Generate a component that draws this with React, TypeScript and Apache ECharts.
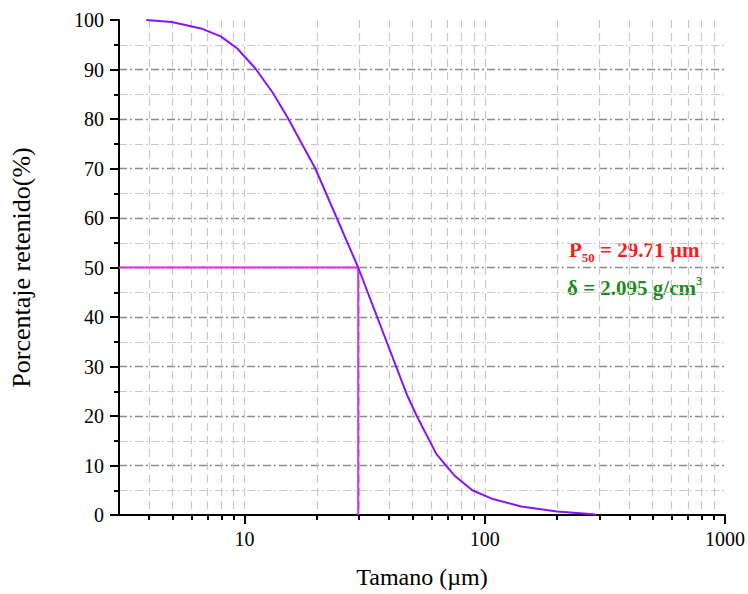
import React, { useEffect, useRef } from "react";
import * as echarts from "echarts";

// Particle size (µm) and percentage retained
const sizes = [3.9, 4.97, 6.59, 7.95, 9.3, 11.05, 13.1, 15.1, 19.7, 29.71, 47.4, 52.1, 62.9, 74.7, 88.7, 107, 142, 200, 282, 290];
const retained = [100, 99.6, 98.3, 96.7, 94.3, 90.3, 85.3, 80.3, 70, 50, 24.3, 20, 12.3, 8, 5, 3.3, 1.7, 0.7, 0.15, 0];

const p50 = 29.71;
const p50Level = 50;
const xMin = 3;
const xMax = 1000;

const xMajorTicks = [10, 100, 1000];
const xMinorTicks = [4, 5, 6, 7, 8, 9, 10, 20, 30, 40, 50, 60, 70, 80, 90, 100, 200, 300, 400, 500, 600, 700, 800, 900];

const FONT = "Liberation Serif";

export default function App() {
  const ref = useRef<HTMLDivElement>(null);
  useEffect(() => {
    if (!ref.current) return;
    const chart = echarts.init(ref.current, null, { renderer: "svg" });
    const option: any = {
      animation: false,
      backgroundColor: "#ffffff",
      grid: { left: 110, right: 20, top: 20, bottom: 74, containLabel: false },
      xAxis: [
        {
          type: "log",
          logBase: 10,
          min: xMin,
          max: xMax,
          position: "bottom",
          name: "Tamano (µm)",
          nameLocation: "middle",
          nameGap: 50,
          nameTextStyle: { fontFamily: FONT, fontSize: 24, color: "#000" },
          axisLine: { show: true, lineStyle: { color: "#000", width: 2 } },
          axisTick: { show: true, inside: false, length: 9, customValues: xMajorTicks, lineStyle: { color: "#000", width: 2 } },
          axisLabel: {
            customValues: xMajorTicks,
            margin: 14,
            fontFamily: FONT,
            fontSize: 20,
            color: "#000",
            formatter: (v: number) => String(v),
          },
          splitLine: { show: false },
          minorTick: { show: false },
        },
        {
          type: "log",
          logBase: 10,
          min: xMin,
          max: xMax,
          position: "bottom",
          axisLine: { show: false },
          axisTick: { show: true, inside: false, length: 5, customValues: xMinorTicks, lineStyle: { color: "#000", width: 2 } },
          axisLabel: { show: false },
          splitLine: { show: true, lineStyle: { color: "#c8c8c8", width: 1.2, type: [8, 5] } },
        },
      ],
      yAxis: {
        type: "value",
        min: 0,
        max: 100,
        interval: 10,
        name: "Porcentaje retenido(%)",
        nameLocation: "middle",
        nameGap: 85,
        nameRotate: 90,
        nameTextStyle: { fontFamily: FONT, fontSize: 26, color: "#000" },
        axisLine: { show: true, lineStyle: { color: "#000", width: 2 } },
        axisTick: { show: true, inside: false, length: 9, lineStyle: { color: "#000", width: 2 } },
        minorTick: { show: true, splitNumber: 2, length: 5, lineStyle: { color: "#000", width: 2 } },
        axisLabel: { margin: 15, fontFamily: FONT, fontSize: 20, color: "#000" },
        splitLine: { show: true, showMinLine: false, showMaxLine: false, lineStyle: { color: "#8c8c8c", width: 1.3, type: [8, 3, 2, 3] } },
        minorSplitLine: { show: true, lineStyle: { color: "#c8c8c8", width: 1.2, type: [8, 3, 2, 3] } },
      },
      series: [
        {
          type: "line",
          xAxisIndex: 0,
          data: [[xMin, p50Level], [p50, p50Level], [p50, 0]],
          symbol: "none",
          lineStyle: { color: "#e02be0", width: 2 },
          z: 3,
        },
        {
          type: "line",
          xAxisIndex: 0,
          data: sizes.map((s, i) => [s, retained[i]]),
          symbol: "none",
          lineStyle: { color: "#8417f2", width: 2 },
          z: 4,
        },
      ],
      graphic: [
        {
          type: "text",
          x: 569,
          y: 250,
          style: {
            text: "{a|P}{s|50}{a| = 29.71 µm}",
            verticalAlign: "middle",
            rich: {
              a: { fontFamily: FONT, fontSize: 21, fontWeight: "bold", fill: "#f51c1c", lineHeight: 28, verticalAlign: "middle" },
              s: { fontFamily: FONT, fontSize: 13, fontWeight: "bold", fill: "#f51c1c", lineHeight: 13, verticalAlign: "bottom" },
            },
          },
        },
        {
          type: "text",
          x: 567,
          y: 288,
          style: {
            text: "{a|δ = 2.095 g/cm}{p|3}",
            verticalAlign: "middle",
            rich: {
              a: { fontFamily: FONT, fontSize: 21, fontWeight: "bold", fill: "#1e8a1e", lineHeight: 28, verticalAlign: "middle" },
              p: { fontFamily: FONT, fontSize: 13, fontWeight: "bold", fill: "#1e8a1e", lineHeight: 13, verticalAlign: "top" },
            },
          },
        },
      ],
    };
    chart.setOption(option);
    return () => chart.dispose();
  }, []);
  return <div ref={ref} style={{ position: "fixed", left: 0, top: 0, width: 748, height: 594 }} />;
}
